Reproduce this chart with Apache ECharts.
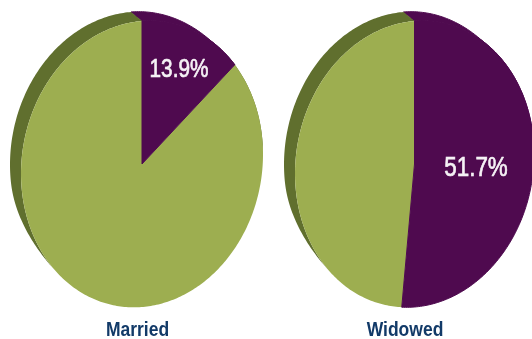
<!DOCTYPE html>
<html>
<head>
<meta charset="utf-8">
<style>html,body{margin:0;padding:0;background:#fff}#c{width:532px;height:339px}</style>
<script src="https://cdn.jsdelivr.net/npm/echarts@6/dist/echarts.min.js"></script>
</head>
<body>
<div id="c"></div>
<script>
// Share of each group, in percent, shown in purple; the olive part is the remainder.
const groups = ['Married', 'Widowed'];
const purpleShares = [13.9, 51.7];

// Tilted-disc layout for each pie.
const centersX = [142, 414.5];
const centerY = 164;
const radiusX = [121, 119.5];
const radiusY = 143;
const depthX = -11;
const depthY = -9;
const shear = 0.08;
const valueLabelAt = [[179, 70], [476, 168]];
const valueFontSize = [26, 28];
const nameX = [137.5, 405];
const nameY = 330;

const PURPLE = '#4f0a4f', OLIVE = '#9dae50', OLIVE_DARK = '#606f2e';
const FONT = '"Liberation Sans",Arial,sans-serif';

// Point on the tilted ellipse at a given percentage clockwise from the top.
function rimPoint(i, pct, dx, dy) {
  const t = pct / 100 * Math.PI * 2;
  const x = radiusX[i] * Math.sin(t);
  const y = -radiusY * Math.cos(t) - shear * x;
  return [centersX[i] + x + dx, centerY + y + dy];
}
// The extruded edge fades out at both ends of the visible rim so the outline stays smooth.
function depthAt(pct) {
  if (pct < 25) return Math.cos(pct / 25 * Math.PI / 2);
  if (pct < 73) return Math.sin(Math.max(0, pct - 63) / 10 * Math.PI / 2);
  return 1;
}
function arc(i, from, to, extruded) {
  const pts = [];
  const steps = Math.max(2, Math.ceil((to - from) * 4));
  for (let s = 0; s <= steps; s++) {
    const p = from + (to - from) * s / steps;
    const f = extruded ? depthAt(p) : 0;
    pts.push(rimPoint(i, p, depthX * f, depthY * f));
  }
  return pts;
}
const poly = (points, fill, edge) => ({
  type: 'polygon', shape: { points },
  style: edge ? { fill, stroke: edge, lineWidth: 1, lineJoin: 'round' } : { fill }
});

function renderPie(params, api) {
  const i = api.value(0), share = api.value(1);
  const whole = 100;
  const hub = [centersX[i], centerY];
  const band = (a, b, fill, edge) => poly(arc(i, a, b, true).concat(arc(i, a, b, false).reverse()), fill, edge);
  return {
    type: 'group',
    children: [
      band(0, Math.min(share, 25), PURPLE, PURPLE),
      band(share, whole, OLIVE_DARK),
      poly([hub].concat(arc(i, share, whole, false)), OLIVE),
      poly([hub].concat(arc(i, 0, share, false)), PURPLE, PURPLE),
      {
        type: 'text',
        x: valueLabelAt[i][0], y: valueLabelAt[i][1], scaleX: 0.8,
        style: {
          text: share.toFixed(1) + '%', fill: '#f6f2f6', align: 'center', verticalAlign: 'middle',
          font: '500 ' + valueFontSize[i] + 'px ' + FONT, stroke: '#f6f2f6', lineWidth: 0.7
        }
      },
      {
        type: 'text',
        x: nameX[i], y: nameY, scaleX: 0.875,
        style: {
          text: groups[i], fill: '#123a68', align: 'center', verticalAlign: 'middle',
          font: 'bold 20px ' + FONT
        }
      }
    ]
  };
}

const chart = echarts.init(document.getElementById('c'), null, { renderer: 'canvas' });
chart.setOption({
  animation: false,
  backgroundColor: '#fff',
  series: [{
    type: 'custom',
    coordinateSystem: 'none',
    silent: true,
    renderItem: renderPie,
    data: groups.map((g, i) => [i, purpleShares[i]])
  }]
});
</script>
</body>
</html>
